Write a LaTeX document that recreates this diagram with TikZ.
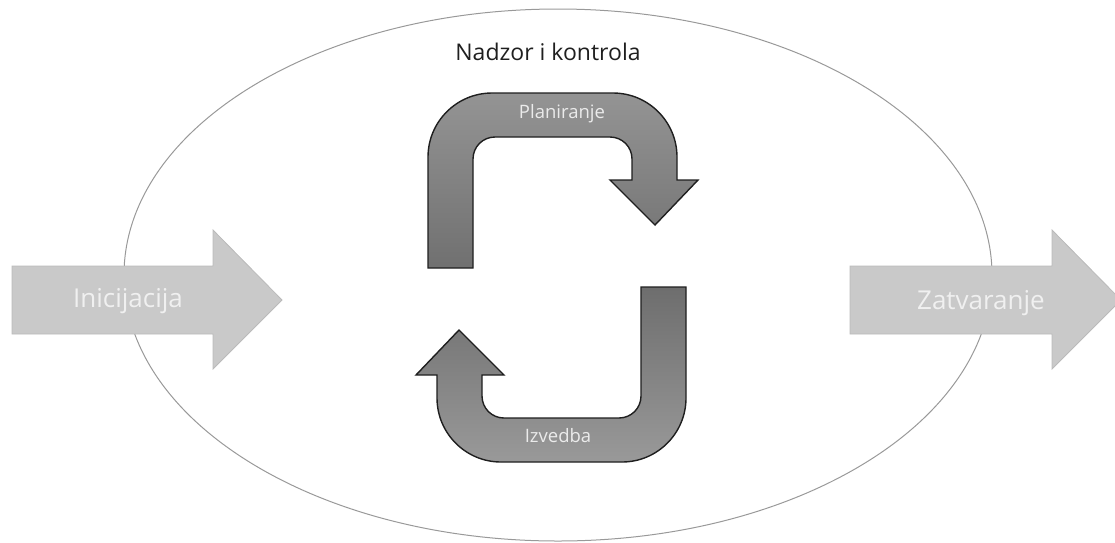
\documentclass[tikz,border=0pt]{standalone}
\usepackage{fontspec}
\setmainfont{Open Sans}

\begin{document}
\begin{tikzpicture}[x=1pt,y=-1pt,
  ring/.style={draw=black!40,line width=1pt},
  bigarrow/.style={fill=black!21,draw=black!27,line width=0.8pt},
  uturn/.style={draw=black!88,line width=1.4pt},
  biglabel/.style={text=white!94!black,font=\fontsize{26}{31}\selectfont},
  smalllabel/.style={text=black!8,font=\fontsize{18.5}{22}\selectfont}]
\useasboundingbox (0,0) rectangle (1115,542);
\draw[ring] (558,275) ellipse [x radius=434, y radius=266];
\draw[bigarrow] (12,266) -- (213,266) -- (213,230) -- (282,300)
  -- (213,369) -- (213,334) -- (12,334) -- cycle;
\draw[bigarrow] (850,266) -- (1052,266) -- (1052,230) -- (1121,300)
  -- (1052,369) -- (1052,334) -- (850,334) -- cycle;
\draw[uturn,top color=black!42,bottom color=black!56]
  (428,268) -- (428,157) .. controls (428,121.7) and (456.7,93) .. (492,93)
  -- (613,93) .. controls (648.3,93) and (677,121.7) .. (677,157)
  -- (677,180) -- (698,180) -- (655,225) -- (610,180) -- (632,180)
  -- (632,159) .. controls (632,146.8) and (622.2,137) .. (610,137)
  -- (495,137) .. controls (482.8,137) and (473,146.8) .. (473,159)
  -- (473,268) -- cycle;
\draw[uturn,top color=black!57,bottom color=black!40]
  (686,287) -- (686,398) .. controls (686,433.3) and (657.3,462) .. (622,462)
  -- (501,462) .. controls (465.7,462) and (437,433.3) .. (437,398)
  -- (437,375) -- (416,375) -- (459,330) -- (504,375) -- (482,375)
  -- (482,396) .. controls (482,408.2) and (491.8,418) .. (504,418)
  -- (619,418) .. controls (631.2,418) and (641,408.2) .. (641,396)
  -- (641,287) -- cycle;
\node[biglabel] (init) at (128,301) {Inicijacija};
\node[biglabel] (close) at (981,303) {Zatvaranje};
\node[font=\fontsize{23}{28}\selectfont,text=black!88] (ctrl) at (548,52) {Nadzor i kontrola};
\node[smalllabel] (plan) at (562,114) {Planiranje};
\node[smalllabel] (exec) at (558,436) {Izvedba};
\end{tikzpicture}
\end{document}
